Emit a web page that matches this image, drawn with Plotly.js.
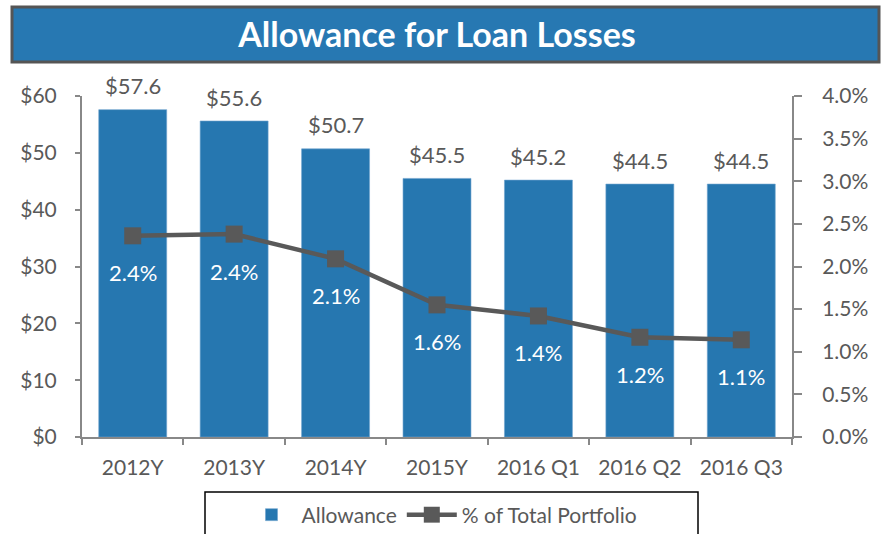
<!DOCTYPE html>
<html>
<head>
<meta charset="utf-8">
<script src="https://cdn.plot.ly/plotly-3.0.1.min.js"></script>
<style>html,body{margin:0;padding:0;background:#fff;}#chart{width:882px;height:534px;}</style>
</head>
<body>
<div id="chart"></div>
<script>
const categories = ['2012Y', '2013Y', '2014Y', '2015Y', '2016 Q1', '2016 Q2', '2016 Q3'];
const allowance = [57.6, 55.6, 50.7, 45.5, 45.2, 44.5, 44.5];
const pctPortfolio = [0.0236, 0.0238, 0.0209, 0.0155, 0.0142, 0.0117, 0.0114];
const allowanceLabels = ['$57.6', '$55.6', '$50.7', '$45.5', '$45.2', '$44.5', '$44.5'];
const pctLabels = ['2.4%', '2.4%', '2.1%', '1.6%', '1.4%', '1.2%', '1.1%'];

const FONT = 'Lato, "Open Sans", sans-serif';
const GRAY = '#595959';
const AXIS = '#888888';
const BLUE = '#2677b0';

const W = 882, H = 534;
const L = 82, R = 90, T = 96, B = 97;
const pw = W - L - R, ph = H - T - B;
const px = v => (v - L) / pw;
const py = v => (H - B - v) / ph;

const traces = [
  {
    type: 'bar', name: 'Allowance', x: categories, y: allowance,
    marker: {color: BLUE, line: {color: '#6fa3cf', width: 0.6}},
    yaxis: 'y', hoverinfo: 'skip'
  },
  {
    type: 'scatter', mode: 'lines+markers', name: '% of Total Portfolio',
    x: categories, y: pctPortfolio, yaxis: 'y2',
    line: {color: GRAY, width: 4.5},
    marker: {symbol: 'square', size: 17, color: GRAY},
    hoverinfo: 'skip'
  }
];

const annotations = [];
categories.forEach((c, i) => {
  annotations.push({
    x: c, y: allowance[i], xref: 'x', yref: 'y', text: allowanceLabels[i],
    showarrow: false, yanchor: 'middle', yshift: 24,
    font: {family: FONT, size: 22, color: GRAY}
  });
  annotations.push({
    x: c, y: pctPortfolio[i], xref: 'x', yref: 'y2', text: pctLabels[i],
    showarrow: false, yanchor: 'middle', yshift: -37,
    font: {family: FONT, size: 22, color: '#ffffff'}
  });
});

const layout = {
  width: W, height: H,
  margin: {l: L, r: R, t: T, b: B, pad: 0, autoexpand: false},
  paper_bgcolor: '#ffffff', plot_bgcolor: '#ffffff',
  font: {family: FONT, color: GRAY, size: 21},
  title: {
    text: '<b>Allowance for Loan Losses</b>',
    font: {family: FONT, size: 34, color: '#ffffff'},
    x: 0.5, xanchor: 'center', xref: 'paper',
    y: 1 - 35 / H, yanchor: 'middle', yref: 'container', automargin: false
  },
  bargap: 0.33,
  showlegend: true,
  legend: {
    orientation: 'h', x: px(442), xanchor: 'center', y: py(515), yanchor: 'middle',
    font: {family: FONT, size: 21, color: GRAY},
    bgcolor: 'rgba(0,0,0,0)', borderwidth: 0, itemwidth: 50, traceorder: 'normal'
  },
  xaxis: {
    type: 'category', showline: true, linecolor: AXIS, linewidth: 2,
    ticks: 'outside', tickson: 'boundaries', ticklen: 6, tickcolor: AXIS, tickwidth: 2,
    tickfont: {family: FONT, size: 21, color: GRAY}, ticklabelstandoff: 11,
    showgrid: false, zeroline: false, fixedrange: true
  },
  yaxis: {
    range: [0, 60], dtick: 10, tickprefix: '$', showline: true, linecolor: AXIS, linewidth: 2,
    ticks: 'outside', ticklen: 5, tickcolor: AXIS, tickwidth: 2,
    tickfont: {family: FONT, size: 21, color: GRAY}, ticklabelstandoff: 14,
    showgrid: false, zeroline: false, fixedrange: true
  },
  yaxis2: {
    overlaying: 'y', side: 'right', range: [0, 0.04], dtick: 0.005, tickformat: '.1%',
    showline: true, linecolor: AXIS, linewidth: 2,
    ticks: 'outside', ticklen: 8, tickcolor: AXIS, tickwidth: 2,
    tickfont: {family: FONT, size: 21, color: GRAY}, ticklabelstandoff: 16,
    showgrid: false, zeroline: false, fixedrange: true
  },
  shapes: [
    {type: 'rect', xref: 'paper', yref: 'paper', layer: 'below',
     x0: px(12), x1: px(879), y0: py(62), y1: py(7),
     fillcolor: '#2778b2', line: {color: '#555555', width: 3}},
    {type: 'rect', xref: 'paper', yref: 'paper', layer: 'below',
     x0: px(205), x1: px(698), y0: py(545), y1: py(492),
     fillcolor: 'rgba(0,0,0,0)', line: {color: '#000000', width: 1.5}}
  ],
  annotations: annotations
};

Plotly.newPlot('chart', traces, layout, {displayModeBar: false, staticPlot: true});
</script>
</body>
</html>
